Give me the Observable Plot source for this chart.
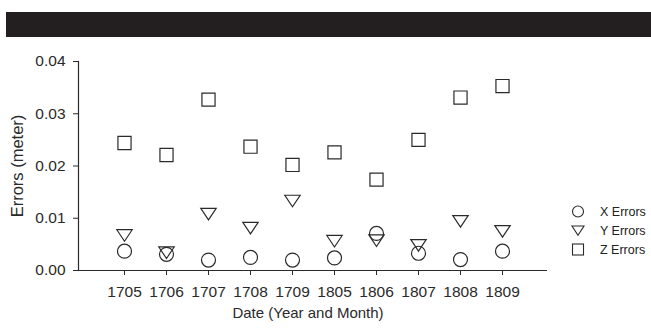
<!DOCTYPE html>
<html>
<head>
<meta charset="utf-8">
<script src="https://cdn.jsdelivr.net/npm/d3@7"></script>
<script src="https://cdn.jsdelivr.net/npm/@observablehq/plot@0.6"></script>
<style>
  html, body { margin: 0; padding: 0; background: #fff; }
  body { width: 651px; height: 333px; position: relative; overflow: hidden; font-family: "Liberation Sans", Arial, sans-serif; }
  #band { position: absolute; left: 6px; top: 12px; width: 645px; height: 25px; background: #231f20; }
  #chart { position: absolute; left: 0; top: 37px; }
  #legend { position: absolute; left: 568px; top: 202px; font-size: 12.5px; color: #222; }
  #legend .row { display: flex; align-items: center; height: 19px; }
  #legend svg { width: 20px; height: 19px; margin-right: 12px; }
</style>
</head>
<body>
<div id="band"></div>
<div id="chart"></div>
<div id="legend"></div>
<script>
const dates = ["1705","1706","1707","1708","1709","1805","1806","1807","1808","1809"];
const xErrors = [0.0037,0.0031,0.0020,0.0025,0.0020,0.0024,0.0071,0.0033,0.0021,0.0037];
const yErrors = [0.0067,0.0034,0.0108,0.0081,0.0133,0.0056,0.0057,0.0048,0.0094,0.0075];
const zErrors = [0.0244,0.0221,0.0327,0.0237,0.0202,0.0226,0.0174,0.0250,0.0331,0.0353];
const seriesNames = ["X Errors","Y Errors","Z Errors"];
const yTicks = [0, 0.01, 0.02, 0.03, 0.04];

const ink = "#2a2a2a";

const triangleDown = {
  draw(ctx, size) {
    const r = Math.sqrt(size / Math.PI);
    const w = r * 2.2, h = w * 0.75;
    ctx.moveTo(-w / 2, -h / 2);
    ctx.lineTo(w / 2, -h / 2);
    ctx.lineTo(0, h / 2);
    ctx.closePath();
  }
};

const rows = (vals) => dates.map((d, i) => ({date: d, value: vals[i]}));

const chart = Plot.plot({
  width: 651,
  height: 296,
  marginLeft: 78,
  marginRight: 104,
  marginTop: 24,
  marginBottom: 63,
  style: {fontFamily: "'Liberation Sans', Arial, sans-serif", fontSize: "15px", color: ink, background: "transparent"},
  x: {type: "point", domain: dates, padding: 1, label: null},
  y: {domain: [0, 0.04], label: null},
  marks: [
    Plot.axisY({ticks: yTicks, tickFormat: d3.format(".2f"), tickSize: 5, tickPadding: 8, fontSize: 15.5, label: null, stroke: ink}),
    Plot.axisX({tickSize: 5, tickPadding: 10, fontSize: 15.5, label: null, stroke: ink}),
    Plot.ruleY([0], {stroke: ink, strokeWidth: 1.2}),
    Plot.frame({anchor: "left", stroke: ink, strokeWidth: 1.2}),
    Plot.dot(rows(xErrors), {x: "date", y: "value", symbol: "circle", r: 7, stroke: ink, strokeWidth: 1.2, fill: "none"}),
    Plot.dot(rows(yErrors), {x: "date", y: "value", symbol: triangleDown, r: 7, stroke: ink, strokeWidth: 1.2, fill: "none"}),
    Plot.dot(rows(zErrors), {x: "date", y: "value", symbol: "square", r: 7.4, stroke: ink, strokeWidth: 1.2, fill: "none"}),
    Plot.text(["Date (Year and Month)"], {frameAnchor: "bottom", textAnchor: "middle", dy: 47, dx: -5, fontSize: 15, fill: ink}),
    Plot.text(["Errors (meter)"], {frameAnchor: "left", textAnchor: "middle", dx: -61, rotate: -90, fontSize: 16.5, fill: ink})
  ]
});
document.getElementById("chart").appendChild(chart);

// legend
const legend = d3.select("#legend");
const shapes = ["circle", "triangle", "square"];
seriesNames.forEach((name, i) => {
  const row = legend.append("div").attr("class", "row");
  const svg = row.append("svg").attr("viewBox", "-10 -9.5 20 19");
  const g = svg.append("g").attr("fill", "none").attr("stroke", ink).attr("stroke-width", 1.1);
  if (shapes[i] === "circle") g.append("circle").attr("r", 5.5);
  else if (shapes[i] === "triangle") g.append("path").attr("d", "M-6,-4.5L6,-4.5L0,4.8Z");
  else g.append("rect").attr("x", -5.5).attr("y", -5.5).attr("width", 11).attr("height", 11);
  row.append("span").text(name);
});
</script>
</body>
</html>
